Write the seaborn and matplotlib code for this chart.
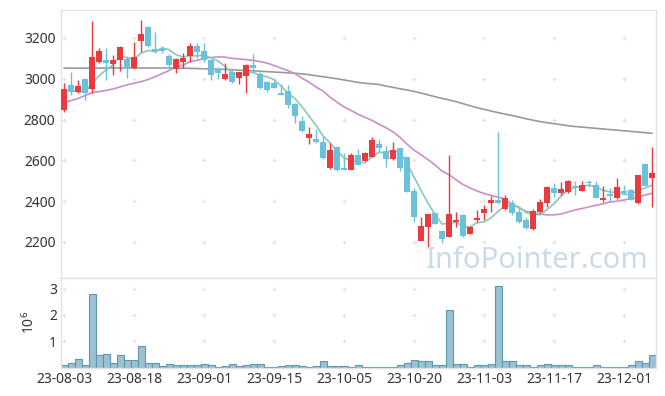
import matplotlib
matplotlib.use("Agg")
import matplotlib.pyplot as plt
import seaborn as sns
import numpy as np
import pandas as pd

# ---------------- data ----------------
tick_labels = ["23-08-03", "23-08-18", "23-09-01", "23-09-15", "23-10-05",
               "23-10-20", "23-11-03", "23-11-17", "23-12-01"]

opens = [2847, 2970, 2934, 2999, 2950, 3084, 3092, 3073, 3092, 3097,
         3051, 3185, 3252, 3146, 3145, 3113, 3047, 3084, 3113, 3161,
         3136, 3092, 3048, 2999, 3032, 3005, 3015, 3068, 3022, 2983,
         2978, 2932, 2940, 2876, 2795, 2708, 2705, 2689, 2561, 2664,
         2563, 2553, 2626, 2597, 2618, 2680, 2646, 2607, 2659, 2615,
         2450, 2206, 2275, 2341, 2254, 2226, 2297, 2332, 2239, 2308,
         2344, 2390, 2406, 2360, 2393, 2346, 2308, 2262, 2349, 2393,
         2463, 2442, 2447, 2474, 2450, 2496, 2479, 2406, 2435, 2414,
         2449, 2455, 2390, 2582, 2512]
highs = [2978, 3035, 2994, 3003, 3283, 3150, 3150, 3117, 3162, 3113,
         3179, 3288, 3258, 3231, 3162, 3120, 3103, 3125, 3174, 3174,
         3174, 3095, 3056, 3076, 3043, 3035, 3071, 3120, 3032, 2988,
         2989, 2973, 2970, 2880, 2818, 2762, 2752, 2720, 2684, 2667,
         2635, 2635, 2656, 2643, 2713, 2703, 2672, 2692, 2662, 2618,
         2463, 2321, 2338, 2343, 2256, 2626, 2349, 2335, 2280, 2357,
         2381, 2425, 2741, 2430, 2406, 2365, 2324, 2360, 2409, 2474,
         2491, 2496, 2504, 2499, 2499, 2504, 2499, 2475, 2463, 2512,
         2479, 2458, 2530, 2585, 2664]
lows = [2839, 2921, 2929, 2896, 2929, 3076, 2994, 3019, 3038, 3005,
        3047, 3133, 3158, 3125, 3128, 3047, 3030, 3051, 3084, 3100,
        3084, 2994, 2998, 2996, 2981, 2973, 2929, 3027, 2950, 2937,
        2953, 2918, 2858, 2782, 2741, 2680, 2687, 2605, 2558, 2550,
        2551, 2551, 2575, 2595, 2615, 2643, 2566, 2604, 2548, 2445,
        2297, 2203, 2174, 2286, 2197, 2224, 2275, 2226, 2237, 2300,
        2308, 2349, 2388, 2357, 2332, 2292, 2262, 2260, 2344, 2373,
        2422, 2430, 2442, 2430, 2448, 2471, 2415, 2398, 2398, 2409,
        2435, 2404, 2388, 2474, 2370]
closes = [2950, 2934, 2965, 2929, 3107, 3136, 3079, 3092, 3154, 3051,
          3108, 3220, 3162, 3130, 3135, 3068, 3097, 3103, 3161, 3133,
          3092, 3019, 3030, 3024, 2983, 3032, 3068, 3051, 2953, 2945,
          2956, 2921, 2872, 2819, 2746, 2729, 2692, 2613, 2651, 2553,
          2553, 2626, 2577, 2635, 2700, 2662, 2607, 2651, 2564, 2447,
          2324, 2278, 2336, 2288, 2215, 2336, 2308, 2231, 2275, 2319,
          2360, 2406, 2390, 2414, 2344, 2300, 2270, 2354, 2398, 2471,
          2442, 2460, 2499, 2469, 2479, 2488, 2417, 2417, 2425, 2468,
          2442, 2406, 2528, 2476, 2537]

ma5 = [2940, 2940, 2937, 2934, 2977, 3014, 3043, 3069, 3114, 3102,
       3097, 3125, 3139, 3134, 3151, 3143, 3118, 3107, 3113, 3112,
       3117, 3102, 3087, 3060, 3030, 3018, 3027, 3032, 3017, 3010,
       2995, 2965, 2929, 2903, 2863, 2817, 2772, 2720, 2686, 2648,
       2612, 2599, 2592, 2589, 2618, 2640, 2636, 2651, 2637, 2586,
       2519, 2453, 2390, 2335, 2288, 2291, 2297, 2276, 2273, 2294,
       2299, 2318, 2350, 2378, 2383, 2371, 2344, 2336, 2333, 2359,
       2387, 2425, 2454, 2468, 2470, 2479, 2470, 2454, 2445, 2443,
       2434, 2432, 2454, 2464, 2478]
ma20 = [2885, 2893, 2903, 2918, 2932, 2937, 2943, 2950, 2960, 2970,
        2978, 2986, 2996, 3010, 3025, 3040, 3058, 3066, 3085, 3090,
        3100, 3104, 3107, 3106, 3100, 3097, 3094, 3090, 3084, 3077,
        3065, 3052, 3040, 3025, 3003, 2983, 2960, 2940, 2910, 2885,
        2862, 2845, 2826, 2811, 2796, 2777, 2760, 2740, 2713, 2680,
        2650, 2628, 2603, 2578, 2547, 2530, 2505, 2482, 2465, 2450,
        2438, 2428, 2420, 2410, 2385, 2368, 2350, 2345, 2337, 2333,
        2333, 2337, 2347, 2357, 2364, 2372, 2380, 2387, 2396, 2400,
        2406, 2412, 2420, 2430, 2439]
ma120 = [3052, 3052, 3052, 3052, 3052, 3052, 3053, 3053, 3053, 3053,
         3053, 3053, 3053, 3053, 3053, 3053, 3052, 3052, 3051, 3050,
         3049, 3048, 3047, 3046, 3044, 3042, 3040, 3039, 3037, 3035,
         3033, 3031, 3029, 3027, 3024, 3020, 3015, 3010, 3005, 3000,
         2994, 2988, 2982, 2978, 2975, 2972, 2964, 2958, 2951, 2945,
         2938, 2930, 2921, 2912, 2904, 2896, 2888, 2878, 2868, 2858,
         2850, 2842, 2834, 2827, 2820, 2812, 2804, 2797, 2790, 2785,
         2780, 2775, 2770, 2766, 2763, 2760, 2757, 2754, 2751, 2748,
         2745, 2742, 2739, 2736, 2733]

volume_m = [0.11, 0.19, 0.34, 0.11, 2.78, 0.46, 0.53, 0.19, 0.46, 0.30,
            0.30, 0.80, 0.19, 0.19, 0.06, 0.15, 0.11, 0.11, 0.11, 0.08,
            0.15, 0.11, 0.03, 0.07, 0.15, 0.07, 0.11, 0.14, 0.14, 0.03,
            0.03, 0.07, 0.11, 0.11, 0.07, 0.03, 0.07, 0.23, 0.06, 0.06,
            0.06, 0.02, 0.08, 0.02, 0.02, 0.02, 0.02, 0.02, 0.11, 0.19,
            0.28, 0.23, 0.23, 0.08, 0.11, 2.17, 0.15, 0.15, 0.02, 0.08,
            0.08, 0.15, 3.08, 0.23, 0.23, 0.11, 0.11, 0.02, 0.08, 0.15,
            0.08, 0.08, 0.08, 0.02, 0.02, 0.02, 0.08, 0.02, 0.02, 0.02,
            0.02, 0.08, 0.23, 0.19, 0.46]

price_ticks = [2200, 2400, 2600, 2800, 3000, 3200]
vol_ticks = [1, 2, 3]

# ---------------- styling ----------------
sns.set_theme(style="white")
plt.rcParams["font.family"] = ["Noto Sans", "DejaVu Sans"]
plt.rcParams["mathtext.fontset"] = "custom"
plt.rcParams["mathtext.rm"] = "Noto Sans"

RED = "#ea3a40"
BLUE = "#6cc1da"
C_MA5 = "#86cabd"
C_MA20 = "#c98fc8"
C_MA120 = "#9a9a9a"
FRAME = "#e3e3e3"
TXT = "#333333"
PLUS = "#e2e2e2"

n = len(closes)
idx = np.arange(n)
df = pd.DataFrame({"i": idx, "open": opens, "high": highs, "low": lows,
                   "close": closes, "ma5": ma5, "ma20": ma20,
                   "ma120": ma120, "vol": volume_m})

fig = plt.figure(figsize=(6.65, 3.96), dpi=100)
W, H = 665, 396
L, R = 61, 656
T, MID, B = 10, 277.5, 367.5
ax = fig.add_axes([L / W, 1 - MID / H, (R - L) / W, (MID - T) / H])
axv = fig.add_axes([L / W, 1 - B / H, (R - L) / W, (B - MID) / H], sharex=ax)

xlim = (-0.43, 84.57)

# moving averages
sns.lineplot(data=df, x="i", y="ma120", ax=ax, color=C_MA120, lw=1.2, legend=False)
sns.lineplot(data=df, x="i", y="ma20", ax=ax, color=C_MA20, lw=1.2, legend=False)
sns.lineplot(data=df, x="i", y="ma5", ax=ax, color=C_MA5, lw=1.2, legend=False)

# candles
up = df["close"] >= df["open"]
cols = np.where(up, RED, BLUE)
ax.vlines(df["i"], df["low"], df["high"], colors=cols, lw=1.0, zorder=3)
bottoms = np.minimum(df["open"], df["close"])
heights = np.maximum(np.abs(df["close"] - df["open"]), 6)
ax.bar(df["i"], heights, bottom=bottoms, width=0.72, color=cols, linewidth=0, zorder=4)

ax.set_xlim(*xlim)
ax.set_ylim(2026, 3337)
ax.set_yticks(price_ticks)
ax.set_yticklabels([str(t) for t in price_ticks])
ax.set_xlabel("")
ax.set_ylabel("")
ax.tick_params(axis="both", length=0, labelsize=10, labelcolor=TXT, pad=4)
ax.tick_params(axis="x", labelbottom=False)

# "+" markers at grid intersections
xt = list(range(0, n, 10))
gx, gy = np.meshgrid(xt, price_ticks)
ax.plot(gx.ravel(), gy.ravel(), "+", ms=3.5, mew=0.8, color=PLUS, zorder=1)

ax.text(0.987, 0.036, "InfoPointer.com", transform=ax.transAxes, ha="right",
        va="baseline", fontsize=21, color="#c9dbe6", zorder=5)

# volume
sns.barplot(data=df, x="i", y="vol", ax=axv, native_scale=True, width=1.0,
            color="#9bc1d3", saturation=1, edgecolor="#5e97b0", linewidth=0.8,
            errorbar=None)
axv.set_xlim(*xlim)
axv.set_ylim(0, 3.42)
axv.set_yticks(vol_ticks)
axv.set_yticklabels([str(t) for t in vol_ticks])
axv.set_xticks(xt)
axv.set_xticklabels(tick_labels)
axv.set_xlabel("")
axv.set_ylabel(r"$\mathregular{10^6}$", fontsize=10, color=TXT)
axv.yaxis.set_label_coords(-0.039, 0.5)
axv.tick_params(axis="both", length=0, labelsize=10, labelcolor=TXT, pad=3)
vx, vy = np.meshgrid(xt, vol_ticks)
axv.plot(vx.ravel(), vy.ravel(), "+", ms=3.5, mew=0.8, color=PLUS, zorder=0)

for a in (ax, axv):
    for s in a.spines.values():
        s.set_color(FRAME)
        s.set_linewidth(1.0)

fig.savefig("out.png", dpi=100, facecolor="white")
